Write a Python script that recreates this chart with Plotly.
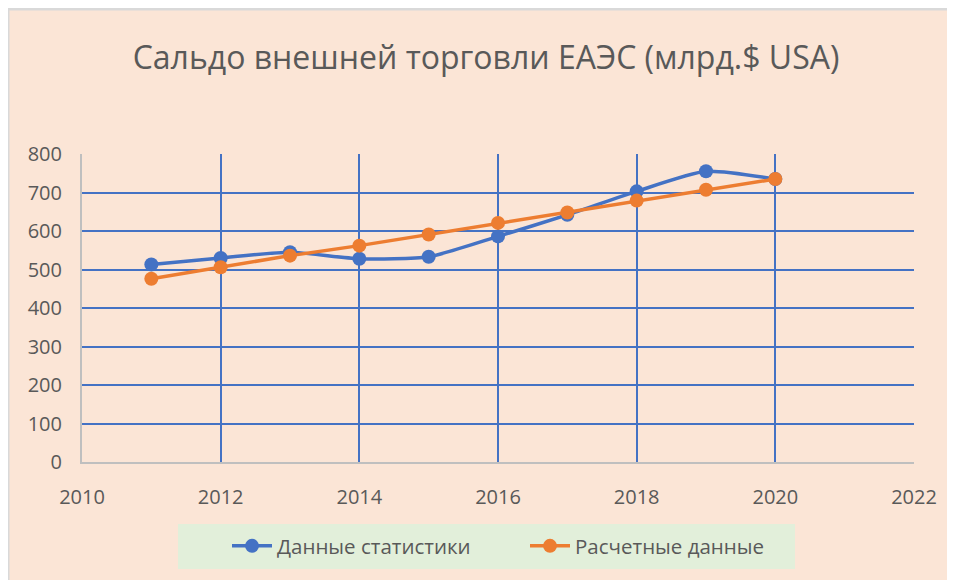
import plotly.graph_objects as go

years = [2011, 2012, 2013, 2014, 2015, 2016, 2017, 2018, 2019, 2020]
stat_values = [513, 530, 545, 528, 533, 586, 642, 703, 755, 735]
calc_values = [476, 506, 536, 562, 591, 621, 648, 679, 707, 735]
stat_name = "Данные статистики"
calc_name = "Расчетные данные"
title_text = "Сальдо внешней торговли ЕАЭС (млрд.$ USA)"

W, H = 955, 580
L, R, T, B = 74, 49, 146, 126
pw, ph = W - L - R, H - T - B

def px(x):
    return (x - L) / pw

def py(y):
    return (H - B - y) / ph

PEACH = "#FBE5D6"
GRAY_TXT = "#595959"
BLUE = "#4472C4"
ORANGE = "#ED7D31"

fig = go.Figure()
fig.add_trace(go.Scatter(
    x=years, y=stat_values, name=stat_name, mode="lines+markers",
    line=dict(color=BLUE, width=3.5, shape="spline", smoothing=0.6),
    marker=dict(size=14, color=BLUE),
))
fig.add_trace(go.Scatter(
    x=years, y=calc_values, name=calc_name, mode="lines+markers",
    line=dict(color=ORANGE, width=3.5),
    marker=dict(size=14, color=ORANGE),
))

shapes = [
    dict(type="rect", xref="paper", yref="paper", x0=px(-1), x1=px(1.5), y0=py(590), y1=py(0),
         fillcolor="#D9D9D9", line_width=0, layer="below"),
    dict(type="rect", xref="paper", yref="paper", x0=px(-1), x1=px(970), y0=py(2.5), y1=py(-1),
         fillcolor="#D9D9D9", line_width=0, layer="below"),
    dict(type="rect", xref="paper", yref="paper", x0=px(170), x1=px(787), y0=py(561), y1=py(516),
         fillcolor="#E2EFDA", line_width=0, layer="below"),
]

fig.update_layout(
    width=W, height=H,
    margin=dict(l=L, r=R, t=T, b=B, pad=0),
    paper_bgcolor=PEACH,
    plot_bgcolor="rgba(0,0,0,0)",
    font=dict(family="Open Sans", color=GRAY_TXT),
    title=dict(text=title_text, x=478 / W, xanchor="center", y=1 - 50 / H, yanchor="middle",
               font=dict(size=32, color=GRAY_TXT, family="Open Sans")),
    showlegend=True,
    legend=dict(orientation="h", x=px(219), xanchor="left", y=py(538), yanchor="middle",
                bgcolor="rgba(0,0,0,0)", font=dict(size=20.5, color=GRAY_TXT),
                entrywidth=243, entrywidthmode="pixels", itemwidth=40),
    shapes=shapes,
    xaxis=dict(range=[2010, 2022], tickmode="linear", tick0=2010, dtick=2,
               showgrid=True, gridcolor=BLUE, gridwidth=2,
               showline=True, linecolor="#BFBFBF", linewidth=2,
               zeroline=False, ticks="", ticklabelstandoff=16,
               tickfont=dict(size=20, color=GRAY_TXT, family="Open Sans")),
    yaxis=dict(range=[0, 800], tickmode="linear", tick0=0, dtick=100,
               showgrid=True, gridcolor=BLUE, gridwidth=2,
               showline=True, linecolor="#BFBFBF", linewidth=2,
               zeroline=False, ticks="", ticklabelstandoff=14,
               tickfont=dict(size=20, color=GRAY_TXT, family="Open Sans")),
)

fig.write_html("out.html")
